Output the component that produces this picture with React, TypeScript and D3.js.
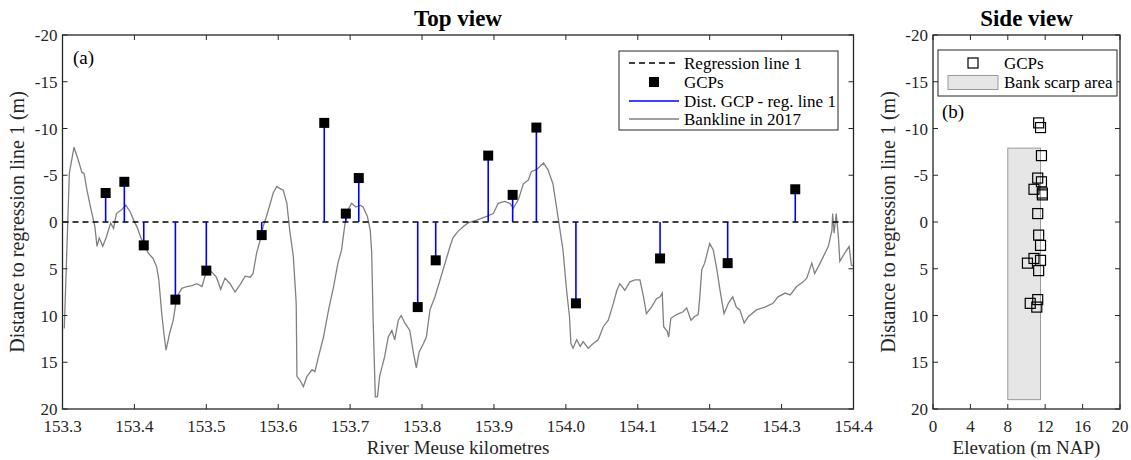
import React from "react";
import * as d3 from "d3";

// GCP positions (river km) and distance to regression line 1 (m)
const gcpKm = [153.36, 153.386, 153.413, 153.457, 153.5, 153.577, 153.664, 153.694, 153.712, 153.794, 153.819, 153.892, 153.926, 153.959, 154.014, 154.131, 154.225, 154.319];
const gcpDist = [-3.1, -4.3, 2.5, 8.3, 5.2, 1.4, -10.6, -0.9, -4.7, 9.1, 4.1, -7.1, -2.9, -10.1, 8.7, 3.9, 4.4, -3.5];
// GCP elevations (m NAP)
const gcpElev = [11.7, 11.6, 11.5, 11.2, 11.3, 11.3, 11.3, 11.2, 11.2, 11.1, 11.5, 11.6, 11.7, 11.5, 10.4, 10.8, 10.1, 10.8];

// Bankline in 2017
const bankKm = [153.3025, 153.3095, 153.316, 153.322, 153.327, 153.330, 153.334, 153.339, 153.343, 153.345, 153.348, 153.351, 153.356, 153.361, 153.367, 153.371, 153.375, 153.382, 153.388, 153.394, 153.399, 153.404, 153.409, 153.415, 153.419, 153.426, 153.431, 153.434, 153.438, 153.441, 153.444, 153.449, 153.454, 153.459, 153.466, 153.473, 153.480, 153.487, 153.494, 153.500, 153.507, 153.514, 153.520, 153.526, 153.533, 153.540, 153.547, 153.554, 153.561, 153.565, 153.570, 153.575, 153.579, 153.584, 153.589, 153.593, 153.598, 153.602, 153.607, 153.612, 153.616, 153.621, 153.625, 153.626, 153.630, 153.635, 153.640, 153.647, 153.651, 153.656, 153.663, 153.670, 153.677, 153.683, 153.688, 153.693, 153.697, 153.702, 153.708, 153.714, 153.718, 153.724, 153.728, 153.730, 153.732, 153.735, 153.738, 153.741, 153.748, 153.753, 153.758, 153.762, 153.767, 153.771, 153.776, 153.783, 153.788, 153.792, 153.796, 153.802, 153.806, 153.811, 153.818, 153.825, 153.832, 153.839, 153.843, 153.850, 153.857, 153.864, 153.876, 153.890, 153.899, 153.906, 153.915, 153.922, 153.927, 153.934, 153.941, 153.948, 153.952, 153.959, 153.969, 153.975, 153.982, 153.989, 153.996, 154.001, 154.005, 154.007, 154.010, 154.015, 154.020, 154.024, 154.031, 154.038, 154.045, 154.052, 154.059, 154.066, 154.071, 154.075, 154.082, 154.089, 154.096, 154.103, 154.108, 154.112, 154.119, 154.126, 154.131, 154.134, 154.136, 154.141, 154.143, 154.146, 154.154, 154.163, 154.168, 154.174, 154.179, 154.184, 154.186, 154.189, 154.193, 154.200, 154.205, 154.210, 154.215, 154.220, 154.226, 154.232, 154.237, 154.242, 154.248, 154.254, 154.265, 154.277, 154.288, 154.295, 154.305, 154.312, 154.321, 154.330, 154.335, 154.342, 154.346, 154.351, 154.358, 154.365, 154.370, 154.371, 154.373, 154.376, 154.379, 154.381, 154.388, 154.394, 154.397, 154.4];
const bankDist = [11.4, -5.2, -8.0, -6.6, -5.3, -5.2, -3.4, -1.6, -0.2, 0.5, 2.6, 1.7, 2.6, 1.6, 0.1, 0.7, -0.9, -1.3, -1.8, -1.1, -0.2, 0.6, 1.7, 2.6, 3.3, 3.9, 4.8, 6.2, 9.8, 11.9, 13.7, 11.9, 10.5, 8.0, 7.1, 6.9, 6.8, 6.6, 6.9, 5.3, 5.3, 5.9, 7.2, 6.0, 6.6, 7.5, 6.7, 5.8, 5.9, 5.5, 3.3, 1.9, 0.5, -0.7, -2.0, -3.1, -3.8, -3.6, -3.4, -2.0, 0.9, 3.7, 8.7, 16.5, 16.9, 17.6, 16.5, 15.8, 16.0, 14.4, 12.3, 9.4, 6.9, 4.4, 3.0, 0.1, -1.3, -2.0, -1.6, -1.8, -1.6, -0.6, 0.9, 3.3, 10.5, 18.7, 18.7, 16.5, 14.4, 12.3, 11.6, 12.6, 10.5, 10.0, 10.8, 11.6, 14.0, 15.6, 13.9, 13.0, 12.3, 9.4, 8.0, 6.2, 4.4, 2.6, 1.7, 1.0, 0.5, 0.1, -0.2, -0.6, -0.9, -2.0, -2.2, -2.0, -1.5, -2.4, -4.1, -4.5, -5.4, -5.6, -6.3, -5.6, -4.1, -0.6, 3.0, 7.3, 10.1, 13.0, 13.5, 12.6, 13.3, 12.8, 13.5, 13.0, 12.6, 11.2, 10.5, 8.7, 7.3, 6.6, 7.3, 6.4, 6.2, 6.2, 8.0, 9.8, 9.1, 8.2, 8.0, 7.6, 11.2, 11.7, 12.3, 10.3, 9.9, 9.6, 9.2, 10.5, 10.1, 9.9, 8.3, 5.1, 4.4, 2.3, 3.0, 5.1, 7.6, 9.8, 8.7, 8.0, 9.1, 9.4, 10.8, 10.1, 9.4, 9.1, 8.7, 8.0, 7.6, 7.8, 6.9, 6.4, 6.0, 4.4, 5.5, 4.8, 3.7, 2.6, 0.9, -0.9, 1.2, -0.9, 1.6, 4.2, 3.3, 2.6, 4.6, 4.7];

// Axis ticks
const kmTicks = [153.3, 153.4, 153.5, 153.6, 153.7, 153.8, 153.9, 154.0, 154.1, 154.2, 154.3, 154.4];
const distTicks = [-20, -15, -10, -5, 0, 5, 10, 15, 20];
const elevTicks = [0, 4, 8, 12, 16, 20];

// Bank scarp area extent
const scarpElev = [8, 11.5];
const scarpDist = [-7.9, 19];

const legendTop = ["Regression line 1", "GCPs", "Dist. GCP - reg. line 1", "Bankline in 2017"];
const legendSide = ["GCPs", "Bank scarp area"];

const FONT = "'Liberation Serif', 'Times New Roman', serif";
const AX = "#262626";

export default function App() {
  const top = 35, bottom = 409;
  const L = { x0: 62.5, x1: 853.5 };
  const S = { x0: 933, x1: 1120 };
  const x = d3.scaleLinear().domain([153.3, 154.4]).range([L.x0, L.x1]);
  const y = d3.scaleLinear().domain([-20, 20]).range([top, bottom]);
  const xe = d3.scaleLinear().domain([0, 20]).range([S.x0, S.x1]);

  const idx = d3.range(bankKm.length);
  const line = d3.line<number>().x(i => x(bankKm[i])).y(i => y(bankDist[i]));
  const tl = 5;
  const ms = 10;
  const TF = 17;

  const frame = (x0: number, x1: number) => (
    <rect x={x0} y={top} width={x1 - x0} height={bottom - top} fill="none" stroke={AX} strokeWidth={1.3} />
  );

  return (
    <svg width={1131} height={460} style={{ position: "absolute", left: 0, top: 0, background: "#fff" }} fontFamily={FONT}>
      <rect width={1131} height={460} fill="#fff" />
      {/* ===== Top view ===== */}
      <text x={(L.x0 + L.x1) / 2} y={26} textAnchor="middle" fontSize={23} fontWeight="bold" fill="#000">Top view</text>
      <defs>
        <clipPath id="clipL"><rect x={L.x0} y={top} width={L.x1 - L.x0} height={bottom - top} /></clipPath>
      </defs>
      <g clipPath="url(#clipL)">
        <path d={line(idx) || ""} fill="none" stroke="#808080" strokeWidth={1.3} />
        <line x1={L.x0} x2={L.x1} y1={y(0)} y2={y(0)} stroke="#000" strokeWidth={1.5} strokeDasharray="6,4" />
        {gcpKm.map((k, i) => (
          <line key={"s" + i} x1={x(k)} x2={x(k)} y1={y(0)} y2={y(gcpDist[i])} stroke="#0000ff" strokeWidth={1.6} />
        ))}
        {gcpKm.map((k, i) => (
          <rect key={"g" + i} x={x(k) - ms / 2} y={y(gcpDist[i]) - ms / 2} width={ms} height={ms} fill="#000" />
        ))}
      </g>
      {frame(L.x0, L.x1)}
      {kmTicks.map(t => (
        <g key={"xt" + t}>
          <line x1={x(t)} x2={x(t)} y1={bottom} y2={bottom - tl} stroke={AX} />
          <line x1={x(t)} x2={x(t)} y1={top} y2={top + tl} stroke={AX} />
          <text x={x(t)} y={432} textAnchor="middle" fontSize={TF} fill={AX}>{t.toFixed(1)}</text>
        </g>
      ))}
      {distTicks.map(t => (
        <g key={"yt" + t}>
          <line x1={L.x0} x2={L.x0 + tl} y1={y(t)} y2={y(t)} stroke={AX} />
          <line x1={L.x1} x2={L.x1 - tl} y1={y(t)} y2={y(t)} stroke={AX} />
          <text x={L.x0 - 5} y={y(t) + 6} textAnchor="end" fontSize={TF} fill={AX}>{t}</text>
        </g>
      ))}
      <text x={(L.x0 + L.x1) / 2} y={454} textAnchor="middle" fontSize={19} fill={AX}>River Meuse kilometres</text>
      <text transform={`translate(24,${(top + bottom) / 2}) rotate(-90)`} textAnchor="middle" fontSize={20} fill={AX}>Distance to regression line 1 (m)</text>
      <text x={73} y={64} fontSize={19} fill="#000">(a)</text>
      {/* legend */}
      <g>
        <rect x={619} y={51} width={219} height={79} fill="#fff" stroke={AX} strokeWidth={1} />
        <line x1={629} x2={679} y1={63} y2={63} stroke="#000" strokeWidth={1.5} strokeDasharray="6,4" />
        <rect x={654 - ms / 2} y={82 - ms / 2} width={ms} height={ms} fill="#000" />
        <line x1={629} x2={679} y1={101} y2={101} stroke="#0000ff" strokeWidth={1.6} />
        <line x1={629} x2={679} y1={119} y2={119} stroke="#808080" strokeWidth={1.3} />
        {legendTop.map((s, i) => (
          <text key={s} x={684} y={[63, 82, 101, 119][i] + 6} fontSize={17} fill="#000">{s}</text>
        ))}
      </g>

      {/* ===== Side view ===== */}
      <text x={(S.x0 + S.x1) / 2} y={26} textAnchor="middle" fontSize={23} fontWeight="bold" fill="#000">Side view</text>
      <rect x={xe(scarpElev[0])} y={y(scarpDist[0])} width={xe(scarpElev[1]) - xe(scarpElev[0])} height={y(scarpDist[1]) - y(scarpDist[0])} fill="#e6e6e6" stroke="#999" strokeWidth={1} />
      {gcpElev.map((e, i) => (
        <rect key={"se" + i} x={xe(e) - 5} y={y(gcpDist[i]) - 5} width={10} height={10} fill="none" stroke="#000" strokeWidth={1.2} />
      ))}
      {frame(S.x0, S.x1)}
      {elevTicks.map(t => (
        <g key={"et" + t}>
          <line x1={xe(t)} x2={xe(t)} y1={bottom} y2={bottom - tl} stroke={AX} />
          <line x1={xe(t)} x2={xe(t)} y1={top} y2={top + tl} stroke={AX} />
          <text x={xe(t)} y={432} textAnchor="middle" fontSize={TF} fill={AX}>{t}</text>
        </g>
      ))}
      {distTicks.map(t => (
        <g key={"syt" + t}>
          <line x1={S.x0} x2={S.x0 + tl} y1={y(t)} y2={y(t)} stroke={AX} />
          <line x1={S.x1} x2={S.x1 - tl} y1={y(t)} y2={y(t)} stroke={AX} />
          <text x={S.x0 - 5} y={y(t) + 6} textAnchor="end" fontSize={TF} fill={AX}>{t}</text>
        </g>
      ))}
      <text x={(S.x0 + S.x1) / 2} y={454} textAnchor="middle" fontSize={19} fill={AX}>Elevation (m NAP)</text>
      <text transform={`translate(895,${(top + bottom) / 2}) rotate(-90)`} textAnchor="middle" fontSize={20} fill={AX}>Distance to regression line 1 (m)</text>
      <text x={942} y={118} fontSize={19} fill="#000">(b)</text>
      <g>
        <rect x={938} y={50} width={179} height={46} fill="#fff" stroke={AX} strokeWidth={1} />
        <rect x={973 - 5} y={63 - 5} width={10} height={10} fill="none" stroke="#000" strokeWidth={1.2} />
        <rect x={948} y={75.5} width={50} height={14} fill="#e6e6e6" stroke="#999" strokeWidth={1} />
        {legendSide.map((s, i) => (
          <text key={s} x={1004} y={[63, 82][i] + 6} fontSize={17} fill="#000">{s}</text>
        ))}
      </g>
    </svg>
  );
}
